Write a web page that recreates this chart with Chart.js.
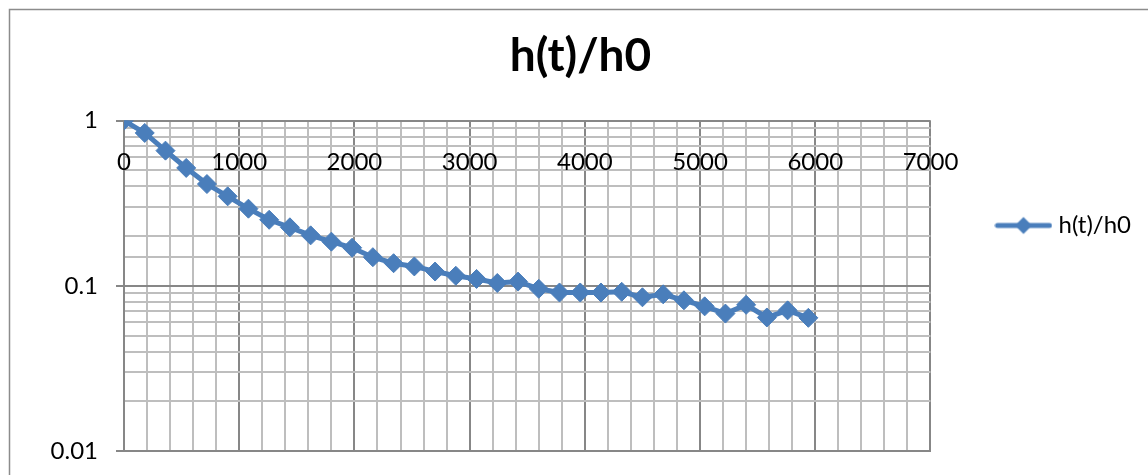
<!DOCTYPE html>
<html><head><meta charset="utf-8">
<script src="https://cdn.jsdelivr.net/npm/chart.js@4/dist/chart.umd.min.js"></script>
<style>html,body{margin:0;padding:0;background:#fff;overflow:hidden}#wrap{width:1148px;height:475px;position:relative;background:#fff}</style>
</head><body><div id="wrap"><canvas id="c" width="1148" height="475"></canvas></div>
<script>
const chartTitle = 'h(t)/h0';
const seriesName = 'h(t)/h0';
const timeValues = [0,180,360,540,720,900,1080,1260,1440,1620,1800,1980,2160,2340,2520,2700,2880,3060,3240,3420,3600,3780,3960,4140,4320,4500,4680,4860,5040,5220,5400,5580,5760,5940];
const ratioValues = [1,0.842,0.658,0.517,0.413,0.348,0.293,0.251,0.226,0.202,0.185,0.170,0.149,0.137,0.131,0.122,0.115,0.110,0.104,0.106,0.0959,0.0911,0.0911,0.0911,0.0920,0.0852,0.0888,0.0817,0.0751,0.0679,0.0767,0.0643,0.0710,0.0640];
const xTickLabels = [0,1000,2000,3000,4000,5000,6000,7000];
const yTickLabels = [0.01,0.1,1];

const BLUE = '#4A7EBB';
const MAJOR = '#878787';
const MINOR = '#BEBEBE';
const FONT = 'Lato, "Open Sans", sans-serif';

function isDecade(v){const l=Math.log10(v);return Math.abs(l-Math.round(l))<1e-6;}

function legendIcon(){
  const c=document.createElement('canvas');c.width=58;c.height=20;
  const g=c.getContext('2d');
  g.strokeStyle=BLUE;g.lineWidth=5;g.lineCap='round';
  g.beginPath();g.moveTo(3,10);g.lineTo(55,10);g.stroke();
  g.fillStyle=BLUE;g.beginPath();g.moveTo(29,1.5);g.lineTo(37.5,10);g.lineTo(29,18.5);g.lineTo(20.5,10);g.closePath();g.fill();
  return c;
}
const icon = legendIcon();

const frame = {
  id:'frame',
  beforeDraw(chart){
    const ctx=chart.ctx;ctx.save();
    ctx.fillStyle='#fff';ctx.fillRect(0,0,chart.width,chart.height);
    ctx.strokeStyle='#8c8c8c';ctx.lineWidth=1.5;ctx.strokeRect(9.5,9.5,1400,1000);
    ctx.restore();
  }
};
const topXLabels = {
  id:'topXLabels',
  afterDraw(chart){
    const xs=chart.scales.x, ctx=chart.ctx;
    ctx.save();ctx.font='24px '+FONT;ctx.fillStyle='#000';ctx.textAlign='center';ctx.textBaseline='middle';
    xTickLabels.forEach(v=>ctx.fillText(String(v), xs.getPixelForValue(v), chart.chartArea.top+42));
    ctx.restore();
  }
};

new Chart(document.getElementById('c'), {
  type:'line',
  data:{datasets:[{
    label:seriesName,
    data:timeValues.map((t,i)=>({x:t,y:ratioValues[i]})),
    borderColor:BLUE, backgroundColor:BLUE, borderWidth:5,
    pointStyle:'rectRot', pointRadius:9.5, pointBorderWidth:1, pointBackgroundColor:BLUE, pointBorderColor:BLUE,
    tension:0, fill:false
  }]},
  options:{
    responsive:false, animation:false, devicePixelRatio:1,
    layout:{padding:{left:20,right:7,top:0,bottom:24}},
    plugins:{
      title:{display:true,text:chartTitle,color:'#000',font:{family:FONT,size:46,weight:'bold',lineHeight:1.2},padding:{top:29,bottom:36.4}},
      legend:{position:'right',labels:{
        color:'#000',font:{family:FONT,size:24},padding:70,usePointStyle:true,pointStyleWidth:46,
        generateLabels(chart){const items=Chart.defaults.plugins.legend.labels.generateLabels(chart);items.forEach(it=>{it.pointStyle=icon;});return items;}
      }},
      tooltip:{enabled:false}
    },
    scales:{
      x:{type:'linear',min:0,max:7000,
        afterFit(s){s.height=0;},
        ticks:{display:false,stepSize:200},
        grid:{drawTicks:false,color:c=>(c.tick&&c.tick.value%1000===0)?MAJOR:MINOR,lineWidth:2},
        border:{display:true,color:MAJOR,width:2}
      },
      y:{type:'logarithmic',min:0.01,max:1,
        afterFit(s){s.width=104;s.paddingTop=0;s.paddingBottom=0;},
        ticks:{autoSkip:false,color:'#000',font:{family:FONT,size:24},padding:18,
          callback:(v)=>{const f=yTickLabels.find(t=>Math.abs(t-v)<1e-9);return f!==undefined?String(f):'';}},
        grid:{tickLength:8,color:c=>(c.tick&&isDecade(c.tick.value))?MAJOR:MINOR,
          tickColor:c=>(c.tick&&isDecade(c.tick.value))?MAJOR:'rgba(0,0,0,0)',
          lineWidth:2},
        border:{display:true,color:MAJOR,width:2}
      }
    }
  },
  plugins:[frame,topXLabels]
});
</script></body></html>
